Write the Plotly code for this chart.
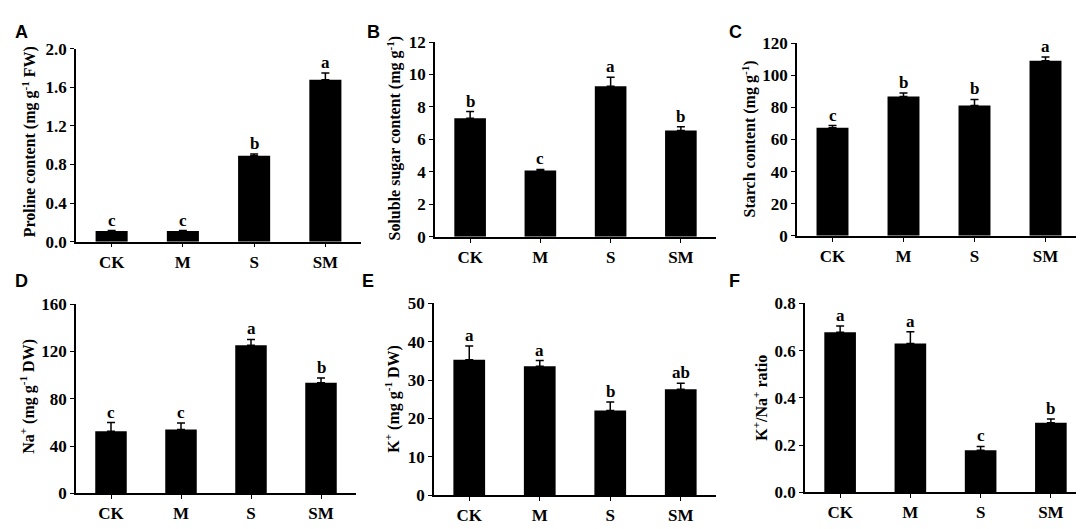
import plotly.graph_objects as go

# Treatments
categories = ["CK", "M", "S", "SM"]

# A - proline
proline = [0.11, 0.11, 0.89, 1.68]
proline_err = [0.005, 0.005, 0.02, 0.07]
proline_sig = ["c", "c", "b", "a"]

# B - soluble sugar
sugar = [7.3, 4.08, 9.28, 6.55]
sugar_err = [0.42, 0.07, 0.55, 0.23]
sugar_sig = ["b", "c", "a", "b"]

# C - starch
starch = [67.2, 86.7, 81.1, 108.9]
starch_err = [1.4, 2.2, 3.8, 2.4]
starch_sig = ["c", "b", "b", "a"]

# D - Na+
na = [52.6, 54.0, 125.3, 93.5]
na_err = [7.3, 5.4, 5.0, 4.0]
na_sig = ["c", "c", "a", "b"]

# E - K+
k = [35.3, 33.6, 22.1, 27.6]
k_err = [3.6, 1.5, 2.2, 1.6]
k_sig = ["a", "a", "b", "ab"]

# F - K+/Na+ ratio
ratio = [0.678, 0.630, 0.178, 0.294]
ratio_err = [0.026, 0.05, 0.016, 0.016]
ratio_sig = ["a", "a", "c", "b"]

W, H = 1084, 529
SERIF = "Liberation Serif, Times New Roman, serif"


def dom_x(left, right):
    return [left / W, right / W]


def dom_y(top, bottom):
    return [1 - bottom / H, 1 - top / H]


# label, values, errors, letters, y title, y range, dtick, format,
# plot box (left, right, top, bottom) in px, title centre (x, y) in px, panel letter pos
panels = [
    ("A", proline, proline_err, proline_sig, "Proline content (mg g<sup>-1</sup> FW)",
     [0, 2.0], 0.4, ".1f", (68, 353, 33, 233), (21, 130), (13, 16)),
    ("B", sugar, sugar_err, sugar_sig, "Soluble sugar content (mg g<sup>-1</sup>)",
     [0, 12], 2, "d", (427, 708, 26, 228), (386, 126), (365, 16)),
    ("C", starch, starch_err, starch_sig, "Starch content (mg g<sup>-1</sup>)",
     [0, 120], 20, "d", (789, 1073, 27, 227), (741, 127), (727, 16)),
    ("D", na, na_err, na_sig, "Na<sup>+</sup> (mg g<sup>-1</sup> DW)",
     [0, 160], 40, "d", (68, 348, 298, 494), (20, 394), (13, 274)),
    ("E", k, k_err, k_sig, "K<sup>+</sup> (mg g<sup>-1</sup> DW)",
     [0, 50], 10, "d", (426, 708, 297, 496), (385, 396), (360, 274)),
    ("F", ratio, ratio_err, ratio_sig, "K<sup>+</sup>/Na<sup>+</sup> ratio",
     [0, 0.8], 0.2, ".1f", (797, 1078, 297, 493), (752, 395), (726, 274)),
]

fig = go.Figure()
annotations = []
bold_serif = lambda size: dict(family=SERIF, size=size, color="black", weight="bold")

for i, (tag, vals, errs, sig, ytitle, yrange, dtick, fmt, box, tpos, lpos) in enumerate(panels):
    n = "" if i == 0 else str(i + 1)
    xa, ya = "x" + n, "y" + n
    left, right, top, bottom = box

    fig.add_trace(go.Bar(
        x=categories, y=vals, width=0.45,
        marker=dict(color="black", line=dict(width=0)),
        error_y=dict(type="data", array=errs, arrayminus=[0] * len(errs), symmetric=False,
                     color="black", thickness=1.5, width=4),
        xaxis=xa, yaxis=ya, showlegend=False,
    ))

    fig.layout["xaxis" + n] = dict(
        domain=dom_x(left, right), anchor=ya, range=[-0.5, 3.5],
        showline=True, linecolor="black", linewidth=1.5,
        ticks="outside", ticklen=4, tickcolor="black", tickwidth=1.2,
        showgrid=False, zeroline=False, tickfont=bold_serif(17),
    )
    fig.layout["yaxis" + n] = dict(
        domain=dom_y(top, bottom), anchor=xa, range=yrange, dtick=dtick, tickformat=fmt,
        showline=True, linecolor="black", linewidth=1.5,
        ticks="outside", ticklen=4, tickcolor="black", tickwidth=1.2,
        showgrid=False, zeroline=False, tickfont=bold_serif(17),
    )

    # significance letters
    for c, v, e, s in zip(categories, vals, errs, sig):
        annotations.append(dict(
            x=c, y=v + e, xref=xa, yref=ya, text=s, showarrow=False,
            yanchor="bottom", yshift=-1, font=bold_serif(17),
        ))

    # y-axis title
    annotations.append(dict(
        x=tpos[0] / W, y=1 - tpos[1] / H, xref="paper", yref="paper",
        text=ytitle, textangle=-90, showarrow=False,
        xanchor="center", yanchor="middle", font=bold_serif(16),
    ))

    # panel letter
    annotations.append(dict(
        x=lpos[0] / W, y=1 - lpos[1] / H, xref="paper", yref="paper",
        text=tag, showarrow=False, xanchor="center", yanchor="middle",
        font=dict(family="Liberation Sans, Arial, sans-serif", size=18, color="black", weight="bold"),
    ))

fig.update_layout(
    width=W, height=H,
    margin=dict(l=0, r=0, t=0, b=0),
    plot_bgcolor="white", paper_bgcolor="white",
    annotations=annotations,
)

fig.write_html("out.html")
